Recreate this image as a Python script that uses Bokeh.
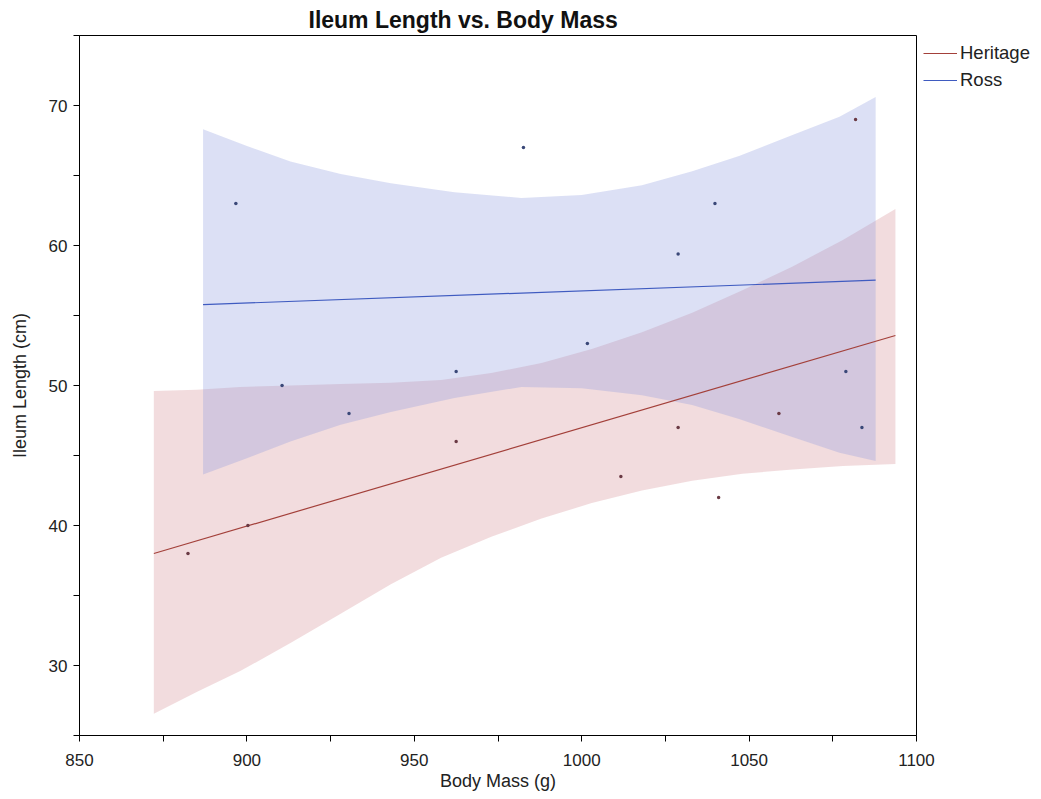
from bokeh.plotting import figure
from bokeh.models import Legend, LegendItem, FixedTicker, Range1d, Title
from bokeh.embed import file_html
from bokeh.resources import INLINE

# ---- data ----
her_mass = [882.4, 900.3, 962.5, 1011.7, 1028.8, 1040.9, 1058.9, 1081.8]
her_len = [38.0, 40.0, 46.0, 43.5, 47.0, 42.0, 48.0, 69.0]
ross_mass = [896.7, 910.5, 930.5, 962.5, 982.6, 1001.7, 1028.8, 1039.8, 1078.9, 1083.7]
ross_len = [63.0, 50.0, 48.0, 51.0, 67.0, 53.0, 59.4, 63.0, 51.0, 47.0]

her_fit_x = [872.2, 1093.7]
her_fit_y = [38.0, 53.57]
ross_fit_x = [886.9, 1087.8]
ross_fit_y = [55.78, 57.52]

her_band_x = [872.2, 885, 898, 913, 928, 943, 958, 973, 988, 1003, 1018, 1033, 1048, 1063, 1078, 1093.7]
her_band_lo = [26.55, 28.1, 29.6, 31.6, 33.7, 35.8, 37.7, 39.2, 40.5, 41.6, 42.5, 43.2, 43.7, 44.0, 44.25, 44.4]
her_band_hi = [49.6, 49.7, 49.9, 50.0, 50.1, 50.2, 50.4, 50.9, 51.6, 52.6, 53.8, 55.2, 56.8, 58.5, 60.4, 62.6]

ross_band_x = [886.9, 900, 913, 928, 943, 962, 982, 1000, 1018, 1033, 1047, 1062, 1077, 1087.8]
ross_band_lo = [43.65, 44.8, 46.0, 47.2, 48.1, 49.1, 49.9, 49.8, 49.3, 48.6, 47.6, 46.4, 45.2, 44.6]
ross_band_hi = [68.3, 67.1, 66.0, 65.1, 64.45, 63.8, 63.4, 63.6, 64.3, 65.3, 66.4, 67.8, 69.2, 70.6]

x_ticks = [850, 875, 900, 925, 950, 975, 1000, 1025, 1050, 1075, 1100]
x_labels = [850, 900, 950, 1000, 1050, 1100]
y_ticks = [25, 30, 35, 40, 45, 50, 55, 60, 65, 70, 75]
y_labels = [30, 40, 50, 60, 70]

HER = "#A3403A"
ROSS = "#3F5BC0"
FONT = "Liberation Sans"

p = figure(frame_width=837, frame_height=700, output_backend="svg", toolbar_location=None,
           x_range=Range1d(850, 1100), y_range=Range1d(25, 75),
           min_border_left=79, min_border_top=35, min_border_bottom=62, min_border_right=5)
p.title = None
p.add_layout(Title(text="Ileum Length vs. Body Mass", text_font=FONT, text_font_size="23px",
                   text_font_style="bold", align="left", offset=229, standoff=5,
                   text_color="#111111"), "above")

p.xgrid.visible = False
p.ygrid.visible = False
p.outline_line_color = "black"
p.outline_line_width = 1
p.background_fill_color = "white"
p.border_fill_color = "white"

# bands
p.varea(x=her_band_x, y1=her_band_lo, y2=her_band_hi, fill_color=(203, 115, 123), fill_alpha=0.25)
p.varea(x=ross_band_x, y1=ross_band_lo, y2=ross_band_hi, fill_color=(138, 152, 222), fill_alpha=0.3)

# fit lines
r_her = p.line(her_fit_x, her_fit_y, line_color=HER, line_width=1.2)
r_ross = p.line(ross_fit_x, ross_fit_y, line_color=ROSS, line_width=1.2)

# points
p.scatter(her_mass, her_len, size=3.5, fill_color="#6a3a44", line_color=None)
p.scatter(ross_mass, ross_len, size=3.5, fill_color="#3a4878", line_color=None)

for ax in (p.xaxis[0], p.yaxis[0]):
    ax.axis_line_color = "black"
    ax.major_tick_line_color = "black"
    ax.major_tick_out = 6
    ax.major_tick_in = 0
    ax.minor_tick_line_color = None
    ax.major_label_text_font = FONT
    ax.major_label_text_font_size = "17px"
    ax.major_label_text_color = "#222222"
    ax.axis_label_text_font = FONT
    ax.axis_label_text_font_size = "18px"
    ax.axis_label_text_font_style = "normal"
    ax.axis_label_text_color = "#222222"

p.xaxis.ticker = FixedTicker(ticks=x_ticks)
p.xaxis.major_label_overrides = {t: (str(t) if t in x_labels else "") for t in x_ticks}
p.yaxis.ticker = FixedTicker(ticks=y_ticks)
p.yaxis.major_label_overrides = {t: (str(t) if t in y_labels else "") for t in y_ticks}
p.xaxis.axis_label = "Body Mass (g)"
p.yaxis.axis_label = "Ileum Length (cm)"
p.xaxis.major_label_standoff = 12
p.yaxis.major_label_standoff = 6
p.xaxis.axis_label_standoff = 2
p.yaxis.axis_label_standoff = 16

legend = Legend(items=[LegendItem(label="Heritage", renderers=[r_her]),
                       LegendItem(label="Ross", renderers=[r_ross])],
                location="top_left", orientation="vertical")
legend.margin = 7
legend.padding = 0
legend.spacing = 5
legend.glyph_width = 34
legend.glyph_height = 22
legend.label_height = 22
legend.label_standoff = 3
legend.label_text_font = FONT
legend.label_text_font_size = "18.5px"
legend.label_text_color = "#222222"
legend.border_line_color = None
legend.background_fill_alpha = 0
p.add_layout(legend, "right")

open("out.html", "w").write(file_html(p, INLINE))
